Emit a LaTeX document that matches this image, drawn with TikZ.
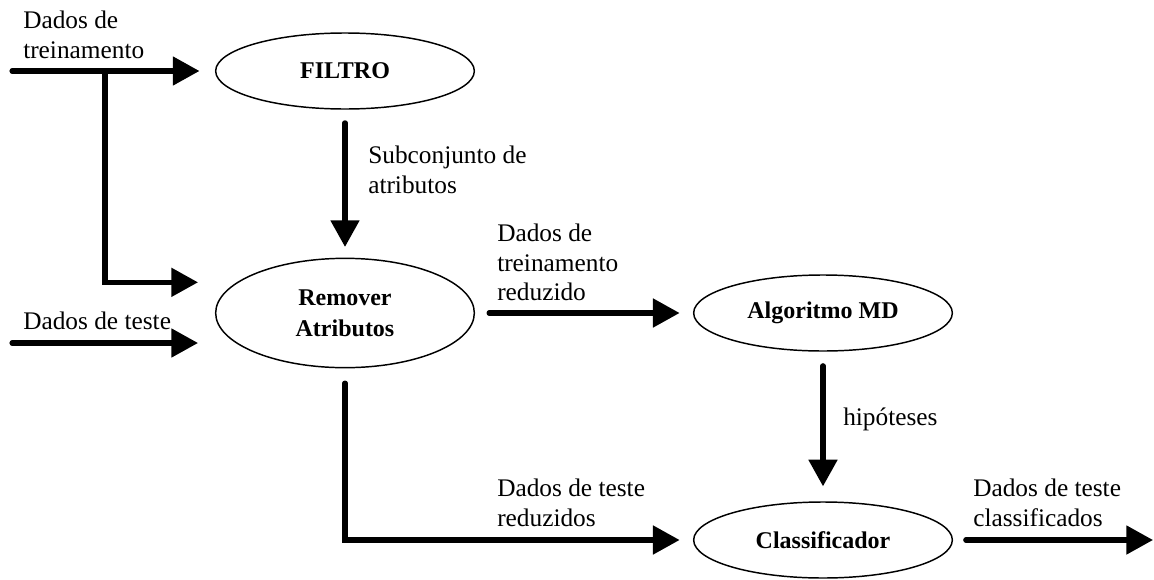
\documentclass[tikz,border=0pt]{standalone}
\usepackage{fontspec}
\setmainfont{Liberation Serif}
\usepackage{tikz}
\usetikzlibrary{shapes.geometric,arrows.meta}
\tikzstyle{proc}=[ellipse, draw, line width=1.1pt, inner sep=0pt, minimum width=194pt, minimum height=57pt, align=center, font=\bfseries\fontsize{18}{23}\selectfont]
\tikzstyle{flow}=[line width=3.8pt, line cap=round, -{Triangle[length=20pt,width=21pt]}]
\tikzstyle{lbl}=[inner sep=0pt, align=left, font=\fontsize{19}{22}\selectfont]

\begin{document}
\begin{tikzpicture}[x=0.75pt, y=-0.75pt]
                    \useasboundingbox (0,0) rectangle (1154,579);
                    \node[proc] (filtro) at (345, 71) {FILTRO};
                    \node[proc, minimum height=82pt] (remover) at (345, 313) {Remover\\Atributos};
                    \node[proc] (algmd) at (823, 313) {Algoritmo MD};
                    \node[proc] (classif) at (823, 540) {Classificador};
                    \coordinate (treino) at (12, 71);
                    \coordinate (ramo) at (105, 71);
                    \coordinate (teste) at (12, 343);
                    \coordinate (saida) at (1153, 540);
                    \draw[flow, shorten >=11.6pt]  (treino)--(filtro.west);
                    \draw[flow, shorten >=12.7pt]  (ramo) |- ([yshift=23pt]remover.west);
                    \draw[flow, shorten >=12.7pt]  (teste)--([yshift=-22.5pt]remover.west);
                    \draw[flow, shorten <=9.8pt, shorten >=8pt]  (filtro.south)--(remover.north);
                    \draw[flow, shorten <=10.5pt, shorten >=10pt]  (remover.east)--(algmd.west);
                    \draw[flow, shorten <=10.5pt, shorten >=11.2pt]  (algmd.south)--(classif.north);
                    \draw[flow, shorten <=11pt, shorten >=10pt]  (remover.south) |- (classif.west);
                    \draw[flow, shorten <=9.5pt]  (classif.east)--(saida);
                    \node[lbl, anchor=north west] (l1) at (23, 11) {Dados de\\treinamento};
                    \node[lbl, anchor=north west] (l2) at (368, 146) {Subconjunto de\\atributos};
                    \node[lbl, anchor=north west] (l3) at (497, 224) {Dados de\\treinamento\\reduzido};
                    \node[lbl, anchor=base west] (l4) at (23, 329) {Dados de teste};
                    \node[lbl, anchor=base west] (l5) at (843, 425) {hipóteses};
                    \node[lbl, anchor=north west] (l6) at (497, 479) {Dados de teste\\reduzidos};
                    \node[lbl, anchor=north west] (l7) at (973, 479) {Dados de teste\\classificados};
                \end{tikzpicture}
\end{document}
